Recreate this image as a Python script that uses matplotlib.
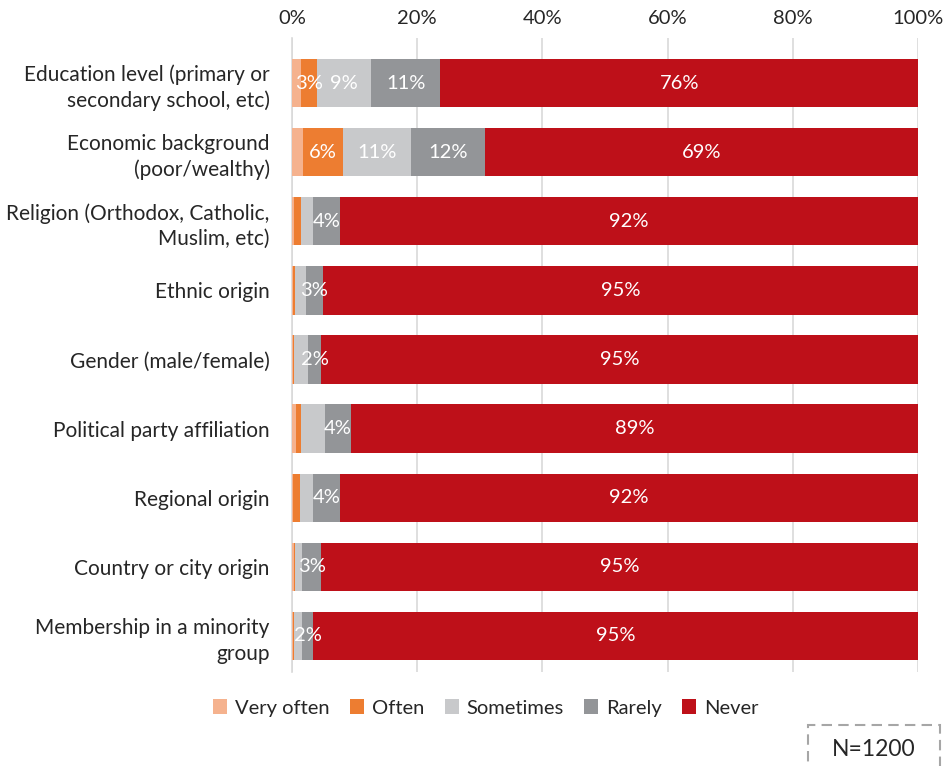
import matplotlib
matplotlib.use("Agg")
import matplotlib.pyplot as plt
from matplotlib.patches import Rectangle
import numpy as np

plt.rcParams['font.family'] = ['Lato', 'DejaVu Sans']
plt.rcParams['figure.autolayout'] = False

categories = [
    "Education level (primary or\nsecondary school, etc)",
    "Economic background\n(poor/wealthy)",
    "Religion (Orthodox, Catholic,\nMuslim, etc)",
    "Ethnic origin",
    "Gender (male/female)",
    "Political party affiliation",
    "Regional origin",
    "Country or city origin",
    "Membership in a minority\ngroup",
]
series_names = ["Very often", "Often", "Sometimes", "Rarely", "Never"]
very_often = [1.4, 1.7, 0.3, 0.1, 0.2, 0.6, 0.2, 0.3, 0.2]
often      = [2.6, 6.4, 1.1, 0.3, 0.1, 0.9, 1.0, 0.2, 0.1]
sometimes  = [8.6, 10.9, 1.9, 1.8, 2.2, 3.7, 2.2, 1.1, 1.3]
rarely     = [11.1, 11.9, 4.4, 2.7, 2.2, 4.2, 4.3, 3.1, 1.8]
never      = [76.3, 69.1, 92.3, 95.1, 95.3, 90.6, 92.3, 95.3, 96.6]
# data labels as printed on the chart (None = not shown)
lab_very_often = [None] * 9
lab_often      = ["3%", "6%", None, None, None, None, None, None, None]
lab_sometimes  = ["9%", "11%", None, None, None, None, None, None, None]
lab_rarely     = ["11%", "12%", "4%", "3%", "2%", "4%", "4%", "3%", "2%"]
lab_never      = ["76%", "69%", "92%", "95%", "95%", "89%", "92%", "95%", "95%"]
xticks = [0, 20, 40, 60, 80, 100]
note = "N=1200"

colors = ["#F5B28E", "#ED7D31", "#C8C9CB", "#939598", "#BE1019"]
series = [very_often, often, sometimes, rarely, never]
labels = [lab_very_often, lab_often, lab_sometimes, lab_rarely, lab_never]

W, H = 951, 766
fig = plt.figure(figsize=(W / 100, H / 100), dpi=100)
top_px, bot_px = 38, 672
left_px, right_px = 292, 918
pos = [left_px / W, 1 - bot_px / H, (right_px - left_px) / W, (bot_px - top_px) / H]
ax = fig.add_axes(pos)

y = np.arange(len(categories))
left = np.zeros(len(categories))
for name, vals, col, labs in zip(series_names, series, colors, labels):
    vals = np.array(vals)
    ax.barh(y, vals, left=left, height=0.7, color=col, label=name, zorder=3)
    for i, (v, l) in enumerate(zip(vals, labs)):
        if l:
            ax.text(left[i] + v / 2, y[i], l, ha='center', va='center',
                    color='white', fontsize=14.5, zorder=4)
    left += vals

u = 69.0
ymin_top = -(83 - top_px) / u
ymax_bot = 8 + (bot_px - 636) / u
ax.set_xlim(0, 100)
ax.set_ylim(ymax_bot, ymin_top)
ax.set_yticks(y)
ax.set_yticklabels(categories, fontsize=15, color='#262626', linespacing=1.35)
ax.set_xticks(xticks)
ax.set_xticklabels([f"{t}%" for t in xticks], fontsize=14.5, color='#262626')
ax.xaxis.tick_top()
ax.tick_params(axis='y', length=0, pad=16)
ax.tick_params(axis='x', length=0, pad=8)
ax.grid(axis='x', color='#D9D9D9', linewidth=1.2, zorder=0)
for s in ['top', 'right', 'bottom']:
    ax.spines[s].set_visible(False)
ax.spines['left'].set_color('#D9D9D9')
ax.spines['left'].set_linewidth(1.2)

handles, hl = ax.get_legend_handles_labels()
fig.legend(handles, hl, loc='center', bbox_to_anchor=(486 / W, 1 - 708 / H),
           ncol=5, frameon=False, fontsize=14.5, handlelength=0.7, handleheight=0.7,
           handletextpad=0.4, columnspacing=1.0, labelcolor='#262626')

box = Rectangle((808 / W, -0.02), (940 - 808) / W, (766 - 725) / H + 0.02,
                transform=fig.transFigure, fill=False, edgecolor='#A6A6A6',
                linestyle=(0, (5, 3)), linewidth=1.5)
fig.add_artist(box)
fig.text(874 / W, 1 - 750 / H, note, ha='center', va='center', fontsize=16.5, color='#262626')

ax.set_position(pos)
fig.savefig("out.png", dpi=100)
